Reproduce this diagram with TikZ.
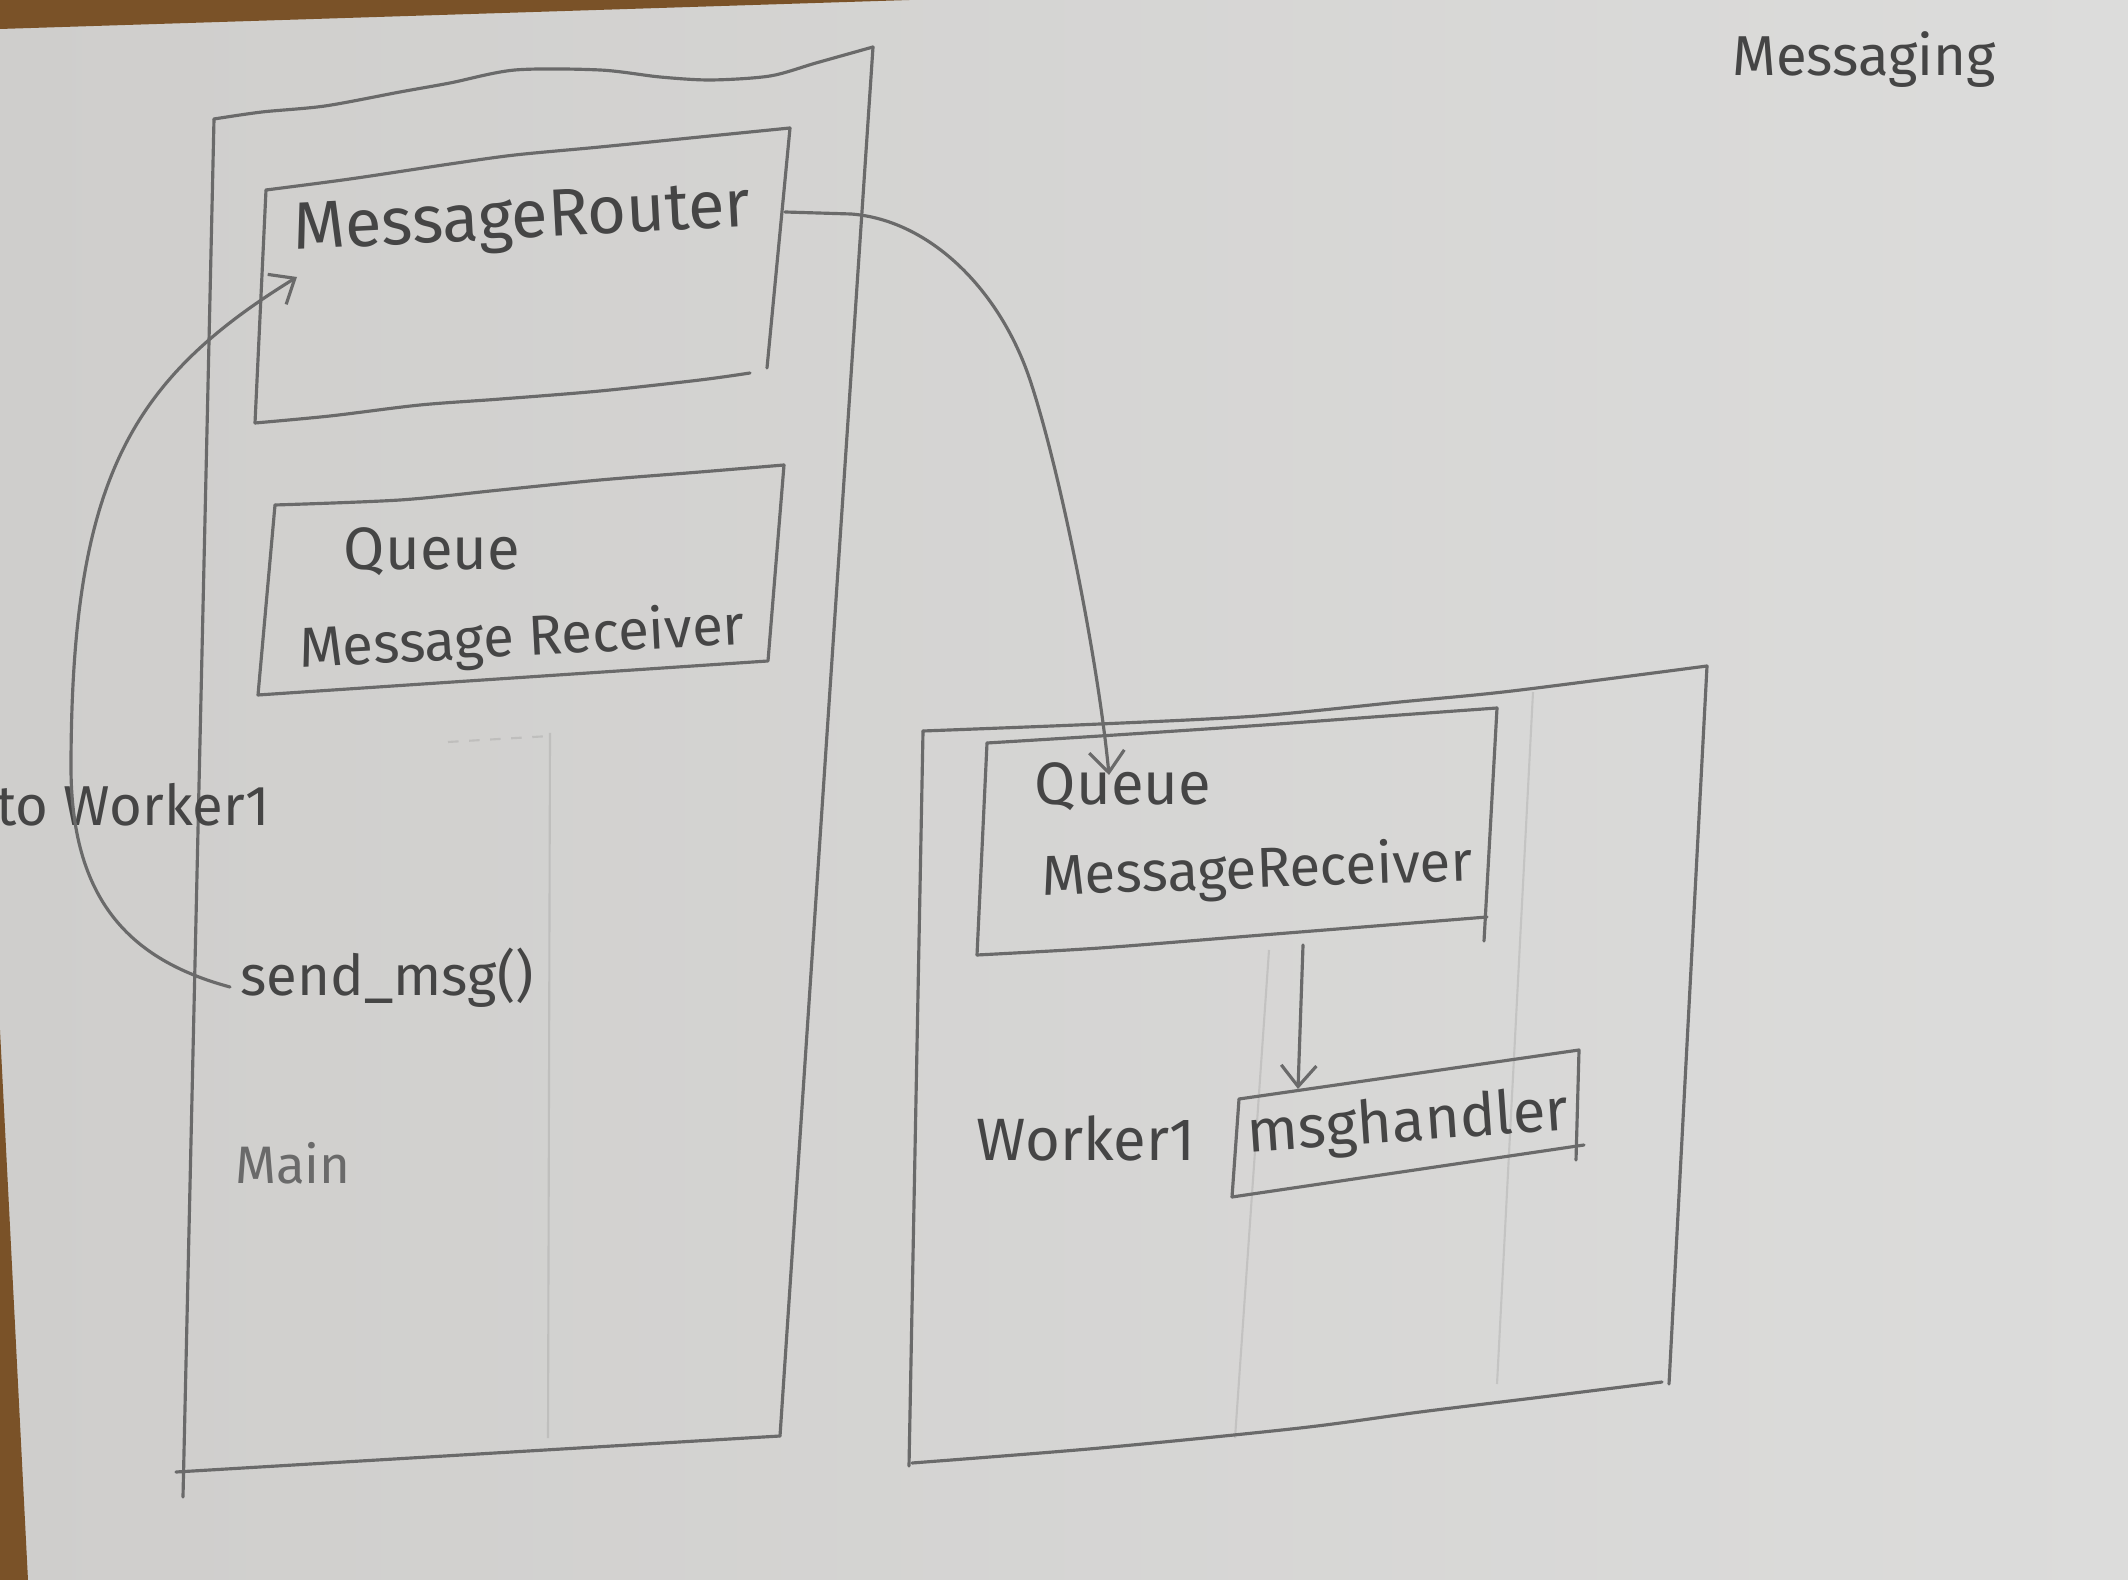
\documentclass[tikz,border=0pt]{standalone}
\usepackage{fontspec}
\setmainfont{Fira Sans}
\usetikzlibrary{arrows.meta}
\definecolor{paperL}{HTML}{CFCECC}
\definecolor{paperR}{HTML}{DCDCDB}
\definecolor{table}{HTML}{7A5228}
\definecolor{lead}{HTML}{6A6A6A}
\definecolor{ink}{HTML}{454545}
\begin{document}
\begin{tikzpicture}[x=0.01cm,y=-0.01cm,
  pencil/.style={draw=lead, line width=0.9pt, line cap=round, line join=round},
  guide/.style={draw=lead, draw opacity=0.18, line width=0.6pt},
  hand/.style={text=ink, inner sep=0pt, font=\fontsize{#1}{#1}\selectfont},
  hand/.default=16,
  vtip/.style={-{Straight Barb[length=6pt,width=10pt,line width=0.9pt]}}]

% sheet of paper on the table
\path[use as bounding box] (0,0) rectangle (2128,1580);
\shade[left color=paperL, right color=paperR] (0,0) rectangle (2128,1580);
\fill[table] (0,0) -- (910,0) -- (440,15) -- (0,29) -- cycle;
\fill[table] (0,1030) -- (28,1580) -- (0,1580) -- cycle;

% faint ruling left by the pencil
\draw[guide] (550,733) -- (548,1438);
\draw[guide, dashed] (448,742) -- (550,736);
\draw[guide] (1533,692) -- (1497,1384);
\draw[guide] (1269,950) -- (1235,1438);

% ---- Main process ----
\coordinate (mainTL) at (214,119);
\coordinate (mainTR) at (873,47);
\coordinate (mainBR) at (780,1436);
\coordinate (mainBL) at (176,1472);
\draw[pencil] plot[smooth] coordinates {(214,119) (262,112) (325,106) (400,92) (450,83) (515,70) (600,70) (660,77) (711,80) (770,76) (816,63) (873,47)};
\draw[pencil] (mainTR) -- (mainBR);
\draw[pencil] (mainBL) -- (mainBR);
\draw[pencil] (mainTL) -- (183,1497);

% MessageRouter box
\coordinate (mrTL) at (266,190);
\coordinate (mrTR) at (790,128);
\coordinate (mrBR) at (767,373);
\coordinate (mrBL) at (255,423);
\draw[pencil] plot[smooth] coordinates {(266,190) (350,179) (450,164) (515,155) (600,147) (700,137) (790,128)};
\draw[pencil] (mrTR) -- (767,368);
\draw[pencil] plot[smooth] coordinates {(255,423) (330,416) (420,405) (501,399) (600,391) (700,380) (750,373)};
\draw[pencil] (mrTL) -- (mrBL);
\node[hand=19, rotate=3] (router) at (522,222) {MessageRouter};

% Queue MessageReceiver box in Main
\coordinate (lqTL) at (275,505);
\coordinate (lqTR) at (784,465);
\coordinate (lqBR) at (768,661);
\coordinate (lqBL) at (258,695);
\draw[pencil] plot[smooth] coordinates {(275,505) (400,500) (500,490) (600,480) (700,472) (784,465)};
\draw[pencil] (lqTR) -- (lqBR) -- (lqBL) -- (lqTL);
\node[hand=17] (lqueue) at (432,552) {Queue};
\node[hand=16, rotate=3] (lreceiver) at (522,640) {Message Receiver};

\node[hand=16] (toworker) at (133,805) {to Worker1};
\node[hand=16] (sendmsg) at (387,978) {send\_msg()};
\node[hand=15, text=ink!80] (mainlabel) at (293,1163) {Main};

% ---- Worker1 process ----
\coordinate (wTL) at (923,731);
\coordinate (wTR) at (1707,666);
\coordinate (wBR) at (1669,1384);
\coordinate (wBL) at (909,1466);
\draw[pencil] plot[smooth] coordinates {(923,731) (1100,724) (1257,716) (1400,702) (1512,691) (1707,666)};
\draw[pencil] (wTR) -- (wBR);
\draw[pencil] plot[smooth] coordinates {(912,1463) (1100,1448) (1300,1428) (1420,1412) (1550,1396) (1662,1382)};
\draw[pencil] (wTL) -- (wBL);

% Queue MessageReceiver box in Worker1
\coordinate (rqTL) at (987,743);
\coordinate (rqTR) at (1497,708);
\coordinate (rqBR) at (1487,917);
\coordinate (rqBL) at (977,955);
\draw[pencil] plot[smooth] coordinates {(987,743) (1100,736) (1250,726) (1400,715) (1497,708)};
\draw[pencil] (rqTR) -- (1484,941);
\draw[pencil] plot[smooth] coordinates {(977,955) (1100,948) (1250,936) (1400,924) (1487,917)};
\draw[pencil] (rqTL) -- (rqBL);
\node[hand=17] (rqueue) at (1123,787) {Queue};
\node[hand=16, rotate=2] (rreceiver) at (1257,872) {MessageReceiver};

% msghandler box
\coordinate (mhTL) at (1239,1099);
\coordinate (mhTR) at (1579,1050);
\coordinate (mhBR) at (1584,1145);
\coordinate (mhBL) at (1232,1197);
\draw[pencil] (mhTL) -- (mhTR) -- (1576,1160);
\draw[pencil] (mhBL) -- (mhBR);
\draw[pencil] (mhTL) -- (mhBL);
\node[hand=17, rotate=4] (handler) at (1408,1125) {msghandler};
\node[hand=17] (worker) at (1086,1138) {Worker1};

\node[hand=16] (title) at (1864,60) {Messaging};

% ---- connectors ----
\coordinate (routerOut) at (785,212);
\coordinate (routerBend) at (851,214);
\coordinate (rqIn) at (1109,775);
\draw[pencil, vtip] (routerOut) -- (routerBend)
  .. controls (930,220) and (1000,290) .. (1030,380)
  .. controls (1060,470) and (1098,660) .. (rqIn);

\coordinate (sendOut) at (230,987);
\coordinate (routerIn) at (297,277);
\draw[pencil, vtip] (sendOut) .. controls (130,960) and (70,900) .. (71,763)
  .. controls (72,480) and (130,380) .. (routerIn);

\coordinate (rqOut) at (1303,945);
\coordinate (mhIn) at (1298,1089);
\draw[pencil, vtip] (rqOut) -- (mhIn);
\end{tikzpicture}
\end{document}
